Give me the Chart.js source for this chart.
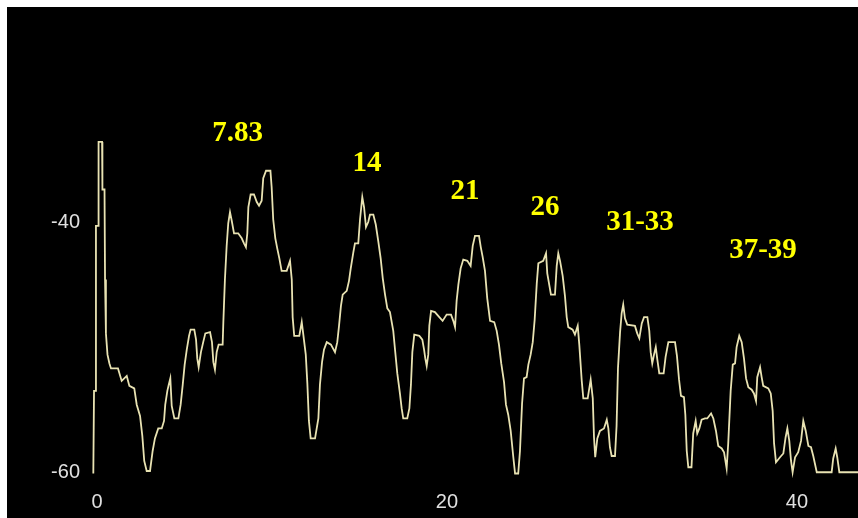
<!DOCTYPE html>
<html lang="en">
<head>
<meta charset="UTF-8">
<title>Schumann spectrum</title>
<script src="https://cdn.jsdelivr.net/npm/chart.js"></script>
<style>
  html, body { margin: 0; padding: 0; background: #fff; }
  #frame { position: absolute; left: 7px; top: 7px; width: 851px; height: 511px; background: #000; }
</style>
</head>
<body>
<div id="frame"><canvas id="myChart" width="851" height="511"></canvas></div>
<script>
// spectrum, frequency in Hz and level in dB
var freqHz = [
  -0.21, -0.17, -0.09, -0.06, 0.06, 0.09, 0.29, 0.31, 0.43, 0.46, 0.51, 0.60, 0.71, 0.80, 1.20, 1.41, 1.70, 1.85, 2.13, 2.27,
  2.46, 2.59, 2.70, 2.84, 3.03, 3.18, 3.31, 3.50, 3.70, 3.83, 3.90, 4.02, 4.10, 4.19, 4.27, 4.42, 4.65, 4.78, 4.90, 5.01,
  5.13, 5.26, 5.35, 5.56, 5.66, 5.73, 5.81, 5.94, 6.07, 6.19, 6.46, 6.57, 6.65, 6.74, 6.84, 6.95, 7.18, 7.22, 7.31, 7.41,
  7.50, 7.60, 7.70, 7.83, 8.07, 8.27, 8.40, 8.51, 8.59, 8.65, 8.78, 8.97, 9.13, 9.26, 9.41, 9.50, 9.66, 9.91, 9.98, 10.07,
  10.19, 10.30, 10.42, 10.55, 10.84, 11.03, 11.13, 11.18, 11.27, 11.56, 11.70, 11.79, 11.93, 12.02, 12.11, 12.21, 12.46, 12.65, 12.74, 12.86,
  12.97, 13.13, 13.37, 13.60, 13.73, 13.83, 13.94, 14.04, 14.27, 14.40, 14.50, 14.65, 14.74, 14.93, 15.03, 15.16, 15.26, 15.37, 15.50, 15.60,
  15.79, 15.93, 16.07, 16.21, 16.33, 16.46, 16.59, 16.74, 16.93, 17.03, 17.16, 17.31, 17.41, 17.50, 17.73, 17.85, 17.94, 18.02, 18.13, 18.42,
  18.59, 18.69, 18.76, 18.84, 18.93, 18.99, 19.09, 19.31, 19.56, 19.75, 19.98, 20.23, 20.36, 20.46, 20.55, 20.65, 20.78, 20.93, 21.16, 21.35,
  21.47, 21.60, 21.83, 21.93, 22.04, 22.17, 22.30, 22.46, 22.70, 22.84, 22.97, 23.10, 23.26, 23.37, 23.50, 23.64, 23.79, 23.89, 24.07, 24.17,
  24.29, 24.40, 24.55, 24.65, 24.78, 24.90, 25.01, 25.13, 25.22, 25.50, 25.66, 25.73, 25.94, 26.17, 26.27, 26.36, 26.46, 26.61, 26.74, 26.84,
  26.93, 27.18, 27.31, 27.47, 27.56, 27.70, 27.79, 28.04, 28.21, 28.33, 28.40, 28.47, 28.59, 28.74, 28.97, 29.13, 29.22, 29.31, 29.41, 29.60,
  29.69, 29.77, 29.89, 29.98, 30.07, 30.17, 30.30, 30.74, 30.87, 30.99, 31.13, 31.26, 31.45, 31.56, 31.64, 31.73, 31.83, 31.93, 32.02, 32.13,
  32.38, 32.49, 32.65, 33.03, 33.14, 33.26, 33.37, 33.54, 33.62, 33.70, 33.79, 33.97, 34.07, 34.21, 34.30, 34.42, 34.55, 34.74, 34.87, 35.09,
  35.22, 35.37, 35.50, 35.70, 35.83, 35.98, 36.07, 36.21, 36.33, 36.46, 36.55, 36.70, 36.84, 36.97, 37.09, 37.22, 37.41, 37.54, 37.66, 37.73,
  37.89, 37.98, 38.07, 38.36, 38.50, 38.61, 38.69, 38.80, 39.03, 39.22, 39.35, 39.45, 39.56, 39.66, 39.75, 39.89, 40.07, 40.23, 40.36, 40.50,
  40.65, 40.80, 40.93, 41.13, 41.98, 42.07, 42.21, 42.30, 42.42, 43.49
];
var levelDb = [
  -60.1, -53.5, -53.5, -40.3, -40.3, -33.6, -33.6, -37.4, -37.4, -44.6, -48.9, -50.6, -51.3, -51.7, -51.7, -52.7, -52.3, -53.1, -53.3, -54.6,
  -55.5, -57.1, -59.1, -59.9, -59.9, -58.3, -57.3, -56.5, -56.5, -55.9, -54.6, -53.5, -53.0, -52.5, -54.7, -55.7, -55.7, -54.6, -53.0, -51.4,
  -50.2, -49.1, -48.6, -48.6, -49.4, -50.9, -51.6, -50.4, -49.6, -48.9, -48.8, -49.6, -51.2, -51.8, -50.4, -49.8, -49.8, -48.0, -44.6, -41.9,
  -40.1, -39.2, -39.9, -40.9, -40.9, -41.3, -41.7, -42.0, -40.9, -38.8, -37.8, -37.8, -38.4, -38.7, -38.3, -36.5, -35.9, -35.9, -37.2, -39.8,
  -41.3, -42.1, -42.9, -43.9, -43.9, -43.1, -44.6, -47.6, -49.1, -49.1, -48.0, -49.0, -50.6, -52.9, -55.9, -57.3, -57.3, -55.7, -53.0, -51.2,
  -50.2, -49.6, -49.8, -50.4, -49.6, -48.3, -46.7, -45.8, -45.5, -44.7, -43.7, -42.4, -41.7, -41.7, -39.8, -38.0, -38.8, -40.4, -40.0, -39.4,
  -39.4, -40.2, -41.5, -42.9, -44.5, -45.8, -46.9, -47.2, -48.7, -50.2, -52.1, -53.7, -54.9, -55.7, -55.7, -54.9, -53.0, -50.4, -49.0, -49.1,
  -49.4, -50.2, -50.9, -51.5, -50.6, -48.3, -47.1, -47.2, -47.6, -47.9, -47.4, -47.4, -47.9, -48.4, -46.3, -45.0, -43.7, -43.0, -43.1, -43.5,
  -41.9, -41.1, -41.1, -42.0, -42.8, -43.9, -46.1, -47.9, -48.0, -48.7, -49.8, -51.3, -52.8, -54.6, -55.4, -56.7, -58.8, -60.1, -60.1, -58.3,
  -54.5, -52.5, -52.4, -51.4, -50.6, -49.6, -47.8, -44.9, -43.3, -43.1, -42.5, -44.1, -45.8, -45.8, -43.5, -42.5, -43.1, -44.3, -45.9, -47.6,
  -48.4, -48.6, -49.0, -48.3, -49.8, -52.7, -54.1, -54.1, -52.6, -54.1, -57.2, -58.8, -57.3, -56.7, -56.5, -55.8, -56.5, -58.0, -58.7, -58.7,
  -56.3, -51.7, -48.8, -47.3, -46.6, -47.7, -48.2, -48.3, -48.9, -49.3, -48.1, -47.6, -47.6, -48.7, -50.4, -51.3, -50.6, -50.0, -51.0, -52.1,
  -52.1, -50.8, -49.6, -49.6, -50.7, -52.6, -53.9, -54.0, -55.4, -58.3, -59.6, -59.6, -56.9, -55.9, -56.9, -56.5, -55.8, -55.7, -55.7, -55.3,
  -55.7, -56.7, -57.9, -58.1, -58.4, -59.7, -57.7, -53.5, -51.4, -51.3, -50.0, -49.1, -49.6, -50.9, -52.5, -53.2, -53.4, -53.7, -54.3, -52.4,
  -51.6, -52.4, -53.1, -53.3, -53.7, -55.1, -57.7, -59.2, -58.8, -58.5, -57.2, -56.5, -57.5, -59.1, -60.0, -58.8, -58.4, -57.5, -55.9, -56.7,
  -57.9, -58.0, -58.7, -60.0, -60.0, -58.9, -58.1, -58.8, -60.0, -60.0
];

var xTicks = [0, 20, 40];
var yTicks = [-60, -40];

// resonance labels, placed in data units
var peakLabels = ['7.83', '14', '21', '26', '31-33', '37-39'];
var peakLabelHz = [8.03, 15.43, 21.03, 25.6, 31.03, 38.06];
var peakLabelDb = [-32.95, -35.35, -37.6, -38.82, -40.0, -42.28];

var points = freqHz.map(function (f, i) { return { x: f, y: levelDb[i] }; });

var peakLabelPlugin = {
  id: 'peakLabels',
  afterDatasetsDraw: function (chart) {
    var ctx = chart.ctx;
    var xs = chart.scales.x, ys = chart.scales.y;
    ctx.save();
    ctx.fillStyle = '#ffff00';
    ctx.font = 'bold 29px "Liberation Serif", "Times New Roman", serif';
    ctx.textAlign = 'center';
    ctx.textBaseline = 'middle';
    for (var i = 0; i < peakLabels.length; i++) {
      ctx.fillText(peakLabels[i], xs.getPixelForValue(peakLabelHz[i]), ys.getPixelForValue(peakLabelDb[i]));
    }
    ctx.restore();
  }
};

var tickFont = { family: '"Liberation Sans", Arial, sans-serif', size: 20 };

var ctx = document.getElementById('myChart').getContext('2d');
var myChart = new Chart(ctx, {
  type: 'line',
  data: {
    datasets: [{
      data: points,
      borderColor: '#e8e2b2',
      borderWidth: 1.8,
      pointRadius: 0,
      tension: 0,
      fill: false
    }]
  },
  options: {
    responsive: false,
    animation: false,
    layout: { padding: { top: 13, left: 0, right: 0, bottom: 0 } },
    plugins: { legend: { display: false }, tooltip: { enabled: false } },
    scales: {
      x: {
        type: 'linear',
        min: -0.514,
        max: 43.486,
        grid: { display: false, drawTicks: false },
        border: { display: false },
        afterBuildTicks: function (s) { s.ticks = xTicks.map(function (v) { return { value: v }; }); },
        afterFit: function (s) { s.height = 33; },
        ticks: { color: '#e0e0e0', font: tickFont, padding: 5, maxRotation: 0 }
      },
      y: {
        type: 'linear',
        min: -61.02,
        max: -24.41,
        grid: { display: false, drawTicks: false },
        border: { display: false },
        afterBuildTicks: function (s) { s.ticks = yTicks.map(function (v) { return { value: v }; }); },
        afterFit: function (s) { s.width = 81; },
        ticks: { color: '#e0e0e0', font: tickFont, padding: 8 }
      }
    }
  },
  plugins: [peakLabelPlugin]
});
</script>
</body>
</html>
